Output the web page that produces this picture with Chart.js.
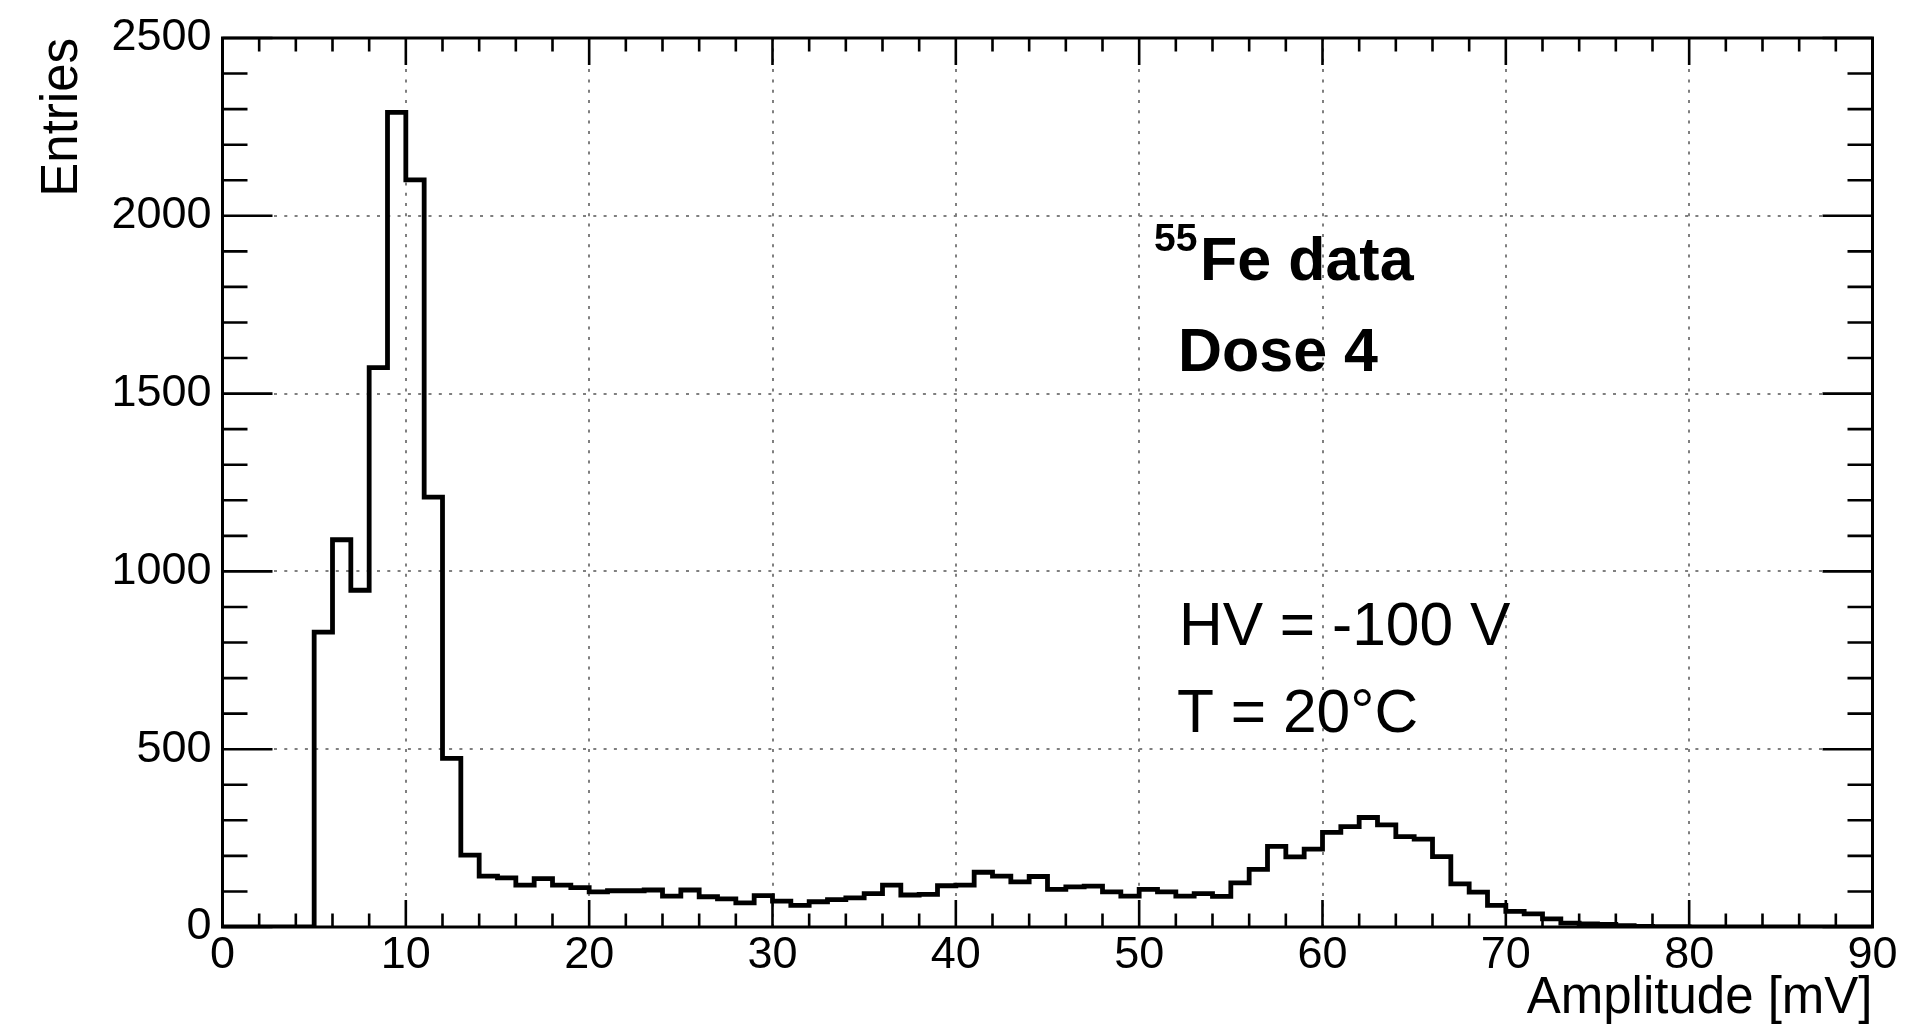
<!DOCTYPE html>
<html>
<head>
<meta charset="utf-8">
<style>
  html, body { margin: 0; padding: 0; background: #ffffff; overflow: hidden; }
  #wrap { position: relative; width: 1926px; height: 1026px; }
  canvas { display: block; }
</style>
<script src="https://cdn.jsdelivr.net/npm/chart.js@4.4.1/dist/chart.umd.min.js"></script>
</head>
<body>
<div id="wrap"><canvas id="c" width="1926" height="1026"></canvas></div>
<script>
// ---------------- data ----------------
const xAxisRange = [0, 90];          // Amplitude [mV]
const binWidth = 1;                  // mV per bin
const counts = [
  0, 0, 0, 0, 0, 829, 1089, 947, 1573, 2291,
  2101, 1209, 474, 202, 143, 138, 118, 136, 118, 111,
  99, 102, 102, 104, 87, 104, 85, 79, 68, 88,
  73, 61, 71, 77, 82, 94, 118, 90, 92, 116,
  118, 154, 143, 127, 142, 106, 113, 115, 99, 87,
  106, 99, 87, 94, 86, 124, 162, 227, 197, 219,
  266, 282, 308, 287, 254, 247, 198, 121, 98, 61,
  44, 37, 23, 11, 9, 7, 4, 2, 1, 1,
  0, 0, 0, 0, 0, 0, 0, 0, 0, 0
];
const xTickLabels = [0, 10, 20, 30, 40, 50, 60, 70, 80, 90];
const yTickLabels = [0, 500, 1000, 1500, 2000, 2500];
const xMinorStep = 2;
const yMinorStep = 100;
const xTitle = 'Amplitude [mV]';
const yTitle = 'Entries';
const annotationBold = ['Fe data', 'Dose 4'];
const isotopeMass = '55';
const annotationPlain = ['HV = -100 V', 'T = 20\u00B0C'];

// ---------------- build histogram outline ----------------
const histPoints = counts.map((c, i) => ({ x: xAxisRange[0] + i * binWidth, y: c }));
histPoints.push({ x: xAxisRange[0] + counts.length * binWidth, y: counts[counts.length - 1] });

const FONT = '"Liberation Sans", Arial, Helvetica, sans-serif';

const rootFrame = {
  id: 'rootFrame',
  beforeDatasetsDraw(chart) {
    const { ctx, chartArea: a, scales: { x, y } } = chart;
    ctx.save();
    ctx.strokeStyle = '#7f7f7f';
    ctx.lineWidth = 2;
    ctx.setLineDash([3, 7.3]);
    xTickLabels.forEach(v => {
      if (v <= xAxisRange[0] || v >= xAxisRange[1]) return;
      const px = Math.round(x.getPixelForValue(v));
      ctx.beginPath(); ctx.moveTo(px, a.bottom); ctx.lineTo(px, a.top); ctx.stroke();
    });
    yTickLabels.forEach(v => {
      if (v <= yTickLabels[0] || v >= yTickLabels[yTickLabels.length - 1]) return;
      const py = Math.round(y.getPixelForValue(v));
      ctx.beginPath(); ctx.moveTo(a.left, py); ctx.lineTo(a.right, py); ctx.stroke();
    });
    ctx.restore();
  },
  afterDatasetsDraw(chart) {
    const { ctx, chartArea: a, scales: { x, y } } = chart;
    ctx.save();
    ctx.strokeStyle = '#000';
    ctx.lineWidth = 3;
    ctx.setLineDash([]);
    ctx.lineCap = 'square';
    ctx.strokeRect(a.left, a.top, a.right - a.left, a.bottom - a.top);
    ctx.lineCap = 'butt';
    ctx.lineWidth = 2.6;
    // x ticks (bottom and top, pointing inward)
    for (let v = xAxisRange[0]; v <= xAxisRange[1] + 1e-9; v += xMinorStep) {
      const major = xTickLabels.includes(v);
      const len = major ? 27 : 13.5;
      const px = x.getPixelForValue(v);
      ctx.beginPath();
      ctx.moveTo(px, a.bottom); ctx.lineTo(px, a.bottom - len);
      ctx.moveTo(px, a.top); ctx.lineTo(px, a.top + len);
      ctx.stroke();
    }
    // y ticks (left and right, pointing inward)
    const yMax = yTickLabels[yTickLabels.length - 1];
    for (let v = yTickLabels[0]; v <= yMax + 1e-9; v += yMinorStep) {
      const major = yTickLabels.includes(v);
      const len = major ? 50 : 25;
      const py = y.getPixelForValue(v);
      ctx.beginPath();
      ctx.moveTo(a.left, py); ctx.lineTo(a.left + len, py);
      ctx.moveTo(a.right, py); ctx.lineTo(a.right - len, py);
      ctx.stroke();
    }
    // annotations
    ctx.fillStyle = '#000';
    ctx.textAlign = 'left';
    ctx.textBaseline = 'alphabetic';
    ctx.font = 'bold 39px ' + FONT;
    ctx.fillText(isotopeMass, 1154, 251);
    ctx.font = 'bold 61px ' + FONT;
    ctx.fillText(annotationBold[0], 1200, 280);
    ctx.fillText(annotationBold[1], 1178, 371);
    ctx.font = '60.5px ' + FONT;
    ctx.fillText(annotationPlain[0], 1179, 645);
    ctx.fillText(annotationPlain[1], 1177, 732);
    ctx.restore();
  }
};

new Chart(document.getElementById('c'), {
  type: 'line',
  data: {
    datasets: [{
      label: 'Entries',
      data: histPoints,
      stepped: 'before',
      borderColor: '#000',
      borderWidth: 4.8,
      borderJoinStyle: 'miter',
      pointRadius: 0,
      fill: false,
      tension: 0
    }]
  },
  options: {
    responsive: false,
    animation: false,
    devicePixelRatio: 1,
    layout: { padding: { left: 0, top: 34, right: 53.5, bottom: 0 } },
    plugins: { legend: { display: false }, tooltip: { enabled: false } },
    scales: {
      x: {
        type: 'linear',
        min: xAxisRange[0],
        max: xAxisRange[1],
        afterBuildTicks: s => { s.ticks = xTickLabels.map(v => ({ value: v })); },
        ticks: { color: '#000', font: { family: FONT, size: 45 }, padding: 2, maxRotation: 0, autoSkip: false,
                 callback: v => String(v) },
        grid: { display: false, drawTicks: false },
        border: { display: false },
        title: { display: true, text: xTitle, align: 'end', color: '#000',
                 font: { family: FONT, size: 51, lineHeight: 1 }, padding: { top: 0, bottom: 2 } },
        afterFit: s => { s.height = 99; }
      },
      y: {
        type: 'linear',
        min: yTickLabels[0],
        max: yTickLabels[yTickLabels.length - 1],
        afterBuildTicks: s => { s.ticks = yTickLabels.map(v => ({ value: v })); },
        ticks: { color: '#000', font: { family: FONT, size: 45 }, padding: 11,
                 callback: v => String(v) },
        grid: { display: false, drawTicks: false },
        border: { display: false },
        title: { display: true, text: yTitle, align: 'end', color: '#000',
                 font: { family: FONT, size: 51, lineHeight: 1 }, padding: { top: 37, bottom: 0 } },
        afterFit: s => { s.width = 222.5; }
      }
    }
  },
  plugins: [rootFrame]
});
</script>
</body>
</html>
